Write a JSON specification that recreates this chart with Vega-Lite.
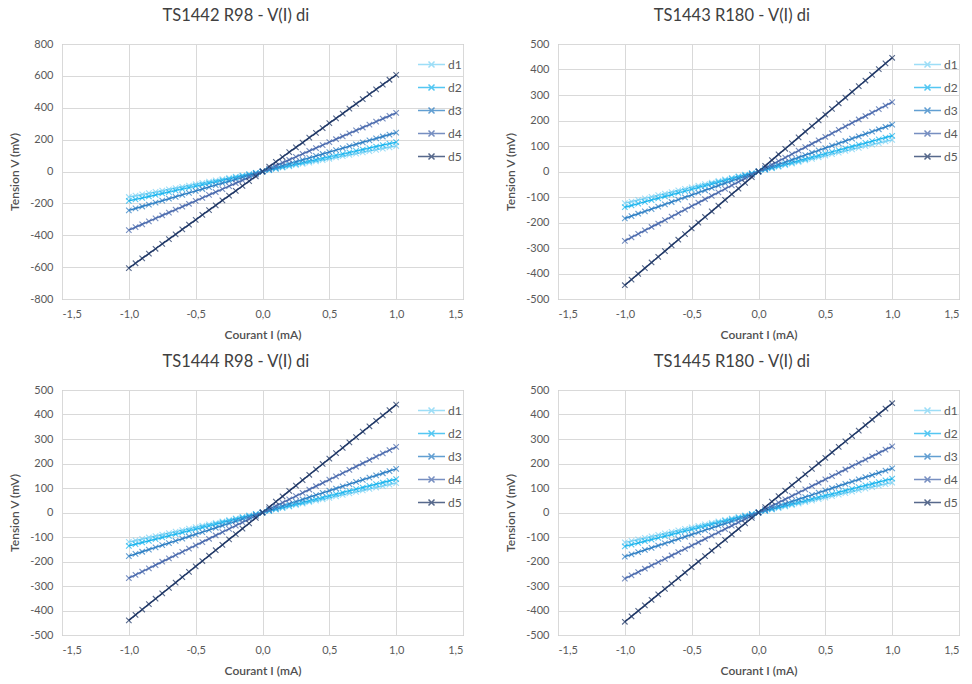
{
"$schema": "https://vega.github.io/schema/vega-lite/v6.json",
"background": "white",
"padding": {"left": 8, "top": 7, "right": 0, "bottom": 0},
"config": {
 "locale": {"number": {"decimal": ",", "thousands": " ", "grouping": [3], "currency": ["", " €"], "minus": "-"}},
 "font": "Lato",
 "view": {"stroke": "#a6a6a6"},
 "axis": {"labelFont": "Lato", "labelFontSize": 11, "labelColor": "#595959", "titleFont": "Lato", "titleFontSize": 12, "titleColor": "#505050", "titleFontWeight": 600, "gridColor": "#d9d9d9", "ticks": false, "domain": false, "labelPadding": 9},
 "axisX": {"titlePadding": 10},
 "axisY": {"titlePadding": 8},
 "title": {"font": "Lato", "fontSize": 16.5, "fontWeight": "normal", "color": "#404040", "offset": 14, "anchor": "middle", "frame": "bounds"},
 "legend": {"orient": "none", "legendX": 361, "legendY": 12, "title": null, "symbolType": "M-1.8,0L1.8,0M-0.4,-0.4L0.4,0.4M-0.4,0.4L0.4,-0.4", "symbolSize": 225, "symbolStrokeWidth": 1.5, "labelOffset": 8, "rowPadding": 8, "labelFont": "Lato", "labelFontSize": 12, "labelColor": "#595959", "padding": 0}
},
"resolve": {"scale": {"color": "independent"}, "legend": {"color": "independent"}},
"datasets": {
 "p1": [
  {"I":-1,"d1":-160,"d2":-184,"d3":-244,"d4":-368,"d5":-606},
  {"I":-0.95,"d1":-152,"d2":-174.8,"d3":-231.8,"d4":-349.6,"d5":-575.7},
  {"I":-0.9,"d1":-144,"d2":-165.6,"d3":-219.6,"d4":-331.2,"d5":-545.4},
  {"I":-0.85,"d1":-136,"d2":-156.4,"d3":-207.4,"d4":-312.8,"d5":-515.1},
  {"I":-0.8,"d1":-128,"d2":-147.2,"d3":-195.2,"d4":-294.4,"d5":-484.8},
  {"I":-0.75,"d1":-120,"d2":-138,"d3":-183,"d4":-276,"d5":-454.5},
  {"I":-0.7,"d1":-112,"d2":-128.8,"d3":-170.8,"d4":-257.6,"d5":-424.2},
  {"I":-0.65,"d1":-104,"d2":-119.6,"d3":-158.6,"d4":-239.2,"d5":-393.9},
  {"I":-0.6,"d1":-96,"d2":-110.4,"d3":-146.4,"d4":-220.8,"d5":-363.6},
  {"I":-0.55,"d1":-88,"d2":-101.2,"d3":-134.2,"d4":-202.4,"d5":-333.3},
  {"I":-0.5,"d1":-80,"d2":-92,"d3":-122,"d4":-184,"d5":-303},
  {"I":-0.45,"d1":-72,"d2":-82.8,"d3":-109.8,"d4":-165.6,"d5":-272.7},
  {"I":-0.4,"d1":-64,"d2":-73.6,"d3":-97.6,"d4":-147.2,"d5":-242.4},
  {"I":-0.35,"d1":-56,"d2":-64.4,"d3":-85.4,"d4":-128.8,"d5":-212.1},
  {"I":-0.3,"d1":-48,"d2":-55.2,"d3":-73.2,"d4":-110.4,"d5":-181.8},
  {"I":-0.25,"d1":-40,"d2":-46,"d3":-61,"d4":-92,"d5":-151.5},
  {"I":-0.2,"d1":-32,"d2":-36.8,"d3":-48.8,"d4":-73.6,"d5":-121.2},
  {"I":-0.15,"d1":-24,"d2":-27.6,"d3":-36.6,"d4":-55.2,"d5":-90.9},
  {"I":-0.1,"d1":-16,"d2":-18.4,"d3":-24.4,"d4":-36.8,"d5":-60.6},
  {"I":-0.05,"d1":-8,"d2":-9.2,"d3":-12.2,"d4":-18.4,"d5":-30.3},
  {"I":0,"d1":0,"d2":0,"d3":0,"d4":0,"d5":0},
  {"I":0.05,"d1":8,"d2":9.2,"d3":12.2,"d4":18.4,"d5":30.3},
  {"I":0.1,"d1":16,"d2":18.4,"d3":24.4,"d4":36.8,"d5":60.6},
  {"I":0.15,"d1":24,"d2":27.6,"d3":36.6,"d4":55.2,"d5":90.9},
  {"I":0.2,"d1":32,"d2":36.8,"d3":48.8,"d4":73.6,"d5":121.2},
  {"I":0.25,"d1":40,"d2":46,"d3":61,"d4":92,"d5":151.5},
  {"I":0.3,"d1":48,"d2":55.2,"d3":73.2,"d4":110.4,"d5":181.8},
  {"I":0.35,"d1":56,"d2":64.4,"d3":85.4,"d4":128.8,"d5":212.1},
  {"I":0.4,"d1":64,"d2":73.6,"d3":97.6,"d4":147.2,"d5":242.4},
  {"I":0.45,"d1":72,"d2":82.8,"d3":109.8,"d4":165.6,"d5":272.7},
  {"I":0.5,"d1":80,"d2":92,"d3":122,"d4":184,"d5":303},
  {"I":0.55,"d1":88,"d2":101.2,"d3":134.2,"d4":202.4,"d5":333.3},
  {"I":0.6,"d1":96,"d2":110.4,"d3":146.4,"d4":220.8,"d5":363.6},
  {"I":0.65,"d1":104,"d2":119.6,"d3":158.6,"d4":239.2,"d5":393.9},
  {"I":0.7,"d1":112,"d2":128.8,"d3":170.8,"d4":257.6,"d5":424.2},
  {"I":0.75,"d1":120,"d2":138,"d3":183,"d4":276,"d5":454.5},
  {"I":0.8,"d1":128,"d2":147.2,"d3":195.2,"d4":294.4,"d5":484.8},
  {"I":0.85,"d1":136,"d2":156.4,"d3":207.4,"d4":312.8,"d5":515.1},
  {"I":0.9,"d1":144,"d2":165.6,"d3":219.6,"d4":331.2,"d5":545.4},
  {"I":0.95,"d1":152,"d2":174.8,"d3":231.8,"d4":349.6,"d5":575.7},
  {"I":1,"d1":160,"d2":184,"d3":244,"d4":368,"d5":606}
 ],
 "p2": [
  {"I":-1,"d1":-124,"d2":-140,"d3":-184,"d4":-272,"d5":-446},
  {"I":-0.95,"d1":-117.8,"d2":-133,"d3":-174.8,"d4":-258.4,"d5":-423.7},
  {"I":-0.9,"d1":-111.6,"d2":-126,"d3":-165.6,"d4":-244.8,"d5":-401.4},
  {"I":-0.85,"d1":-105.4,"d2":-119,"d3":-156.4,"d4":-231.2,"d5":-379.1},
  {"I":-0.8,"d1":-99.2,"d2":-112,"d3":-147.2,"d4":-217.6,"d5":-356.8},
  {"I":-0.75,"d1":-93,"d2":-105,"d3":-138,"d4":-204,"d5":-334.5},
  {"I":-0.7,"d1":-86.8,"d2":-98,"d3":-128.8,"d4":-190.4,"d5":-312.2},
  {"I":-0.65,"d1":-80.6,"d2":-91,"d3":-119.6,"d4":-176.8,"d5":-289.9},
  {"I":-0.6,"d1":-74.4,"d2":-84,"d3":-110.4,"d4":-163.2,"d5":-267.6},
  {"I":-0.55,"d1":-68.2,"d2":-77,"d3":-101.2,"d4":-149.6,"d5":-245.3},
  {"I":-0.5,"d1":-62,"d2":-70,"d3":-92,"d4":-136,"d5":-223},
  {"I":-0.45,"d1":-55.8,"d2":-63,"d3":-82.8,"d4":-122.4,"d5":-200.7},
  {"I":-0.4,"d1":-49.6,"d2":-56,"d3":-73.6,"d4":-108.8,"d5":-178.4},
  {"I":-0.35,"d1":-43.4,"d2":-49,"d3":-64.4,"d4":-95.2,"d5":-156.1},
  {"I":-0.3,"d1":-37.2,"d2":-42,"d3":-55.2,"d4":-81.6,"d5":-133.8},
  {"I":-0.25,"d1":-31,"d2":-35,"d3":-46,"d4":-68,"d5":-111.5},
  {"I":-0.2,"d1":-24.8,"d2":-28,"d3":-36.8,"d4":-54.4,"d5":-89.2},
  {"I":-0.15,"d1":-18.6,"d2":-21,"d3":-27.6,"d4":-40.8,"d5":-66.9},
  {"I":-0.1,"d1":-12.4,"d2":-14,"d3":-18.4,"d4":-27.2,"d5":-44.6},
  {"I":-0.05,"d1":-6.2,"d2":-7,"d3":-9.2,"d4":-13.6,"d5":-22.3},
  {"I":0,"d1":0,"d2":0,"d3":0,"d4":0,"d5":0},
  {"I":0.05,"d1":6.2,"d2":7,"d3":9.2,"d4":13.6,"d5":22.3},
  {"I":0.1,"d1":12.4,"d2":14,"d3":18.4,"d4":27.2,"d5":44.6},
  {"I":0.15,"d1":18.6,"d2":21,"d3":27.6,"d4":40.8,"d5":66.9},
  {"I":0.2,"d1":24.8,"d2":28,"d3":36.8,"d4":54.4,"d5":89.2},
  {"I":0.25,"d1":31,"d2":35,"d3":46,"d4":68,"d5":111.5},
  {"I":0.3,"d1":37.2,"d2":42,"d3":55.2,"d4":81.6,"d5":133.8},
  {"I":0.35,"d1":43.4,"d2":49,"d3":64.4,"d4":95.2,"d5":156.1},
  {"I":0.4,"d1":49.6,"d2":56,"d3":73.6,"d4":108.8,"d5":178.4},
  {"I":0.45,"d1":55.8,"d2":63,"d3":82.8,"d4":122.4,"d5":200.7},
  {"I":0.5,"d1":62,"d2":70,"d3":92,"d4":136,"d5":223},
  {"I":0.55,"d1":68.2,"d2":77,"d3":101.2,"d4":149.6,"d5":245.3},
  {"I":0.6,"d1":74.4,"d2":84,"d3":110.4,"d4":163.2,"d5":267.6},
  {"I":0.65,"d1":80.6,"d2":91,"d3":119.6,"d4":176.8,"d5":289.9},
  {"I":0.7,"d1":86.8,"d2":98,"d3":128.8,"d4":190.4,"d5":312.2},
  {"I":0.75,"d1":93,"d2":105,"d3":138,"d4":204,"d5":334.5},
  {"I":0.8,"d1":99.2,"d2":112,"d3":147.2,"d4":217.6,"d5":356.8},
  {"I":0.85,"d1":105.4,"d2":119,"d3":156.4,"d4":231.2,"d5":379.1},
  {"I":0.9,"d1":111.6,"d2":126,"d3":165.6,"d4":244.8,"d5":401.4},
  {"I":0.95,"d1":117.8,"d2":133,"d3":174.8,"d4":258.4,"d5":423.7},
  {"I":1,"d1":124,"d2":140,"d3":184,"d4":272,"d5":446}
 ],
 "p3": [
  {"I":-1,"d1":-120,"d2":-136,"d3":-178,"d4":-268,"d5":-440},
  {"I":-0.95,"d1":-114,"d2":-129.2,"d3":-169.1,"d4":-254.6,"d5":-418},
  {"I":-0.9,"d1":-108,"d2":-122.4,"d3":-160.2,"d4":-241.2,"d5":-396},
  {"I":-0.85,"d1":-102,"d2":-115.6,"d3":-151.3,"d4":-227.8,"d5":-374},
  {"I":-0.8,"d1":-96,"d2":-108.8,"d3":-142.4,"d4":-214.4,"d5":-352},
  {"I":-0.75,"d1":-90,"d2":-102,"d3":-133.5,"d4":-201,"d5":-330},
  {"I":-0.7,"d1":-84,"d2":-95.2,"d3":-124.6,"d4":-187.6,"d5":-308},
  {"I":-0.65,"d1":-78,"d2":-88.4,"d3":-115.7,"d4":-174.2,"d5":-286},
  {"I":-0.6,"d1":-72,"d2":-81.6,"d3":-106.8,"d4":-160.8,"d5":-264},
  {"I":-0.55,"d1":-66,"d2":-74.8,"d3":-97.9,"d4":-147.4,"d5":-242},
  {"I":-0.5,"d1":-60,"d2":-68,"d3":-89,"d4":-134,"d5":-220},
  {"I":-0.45,"d1":-54,"d2":-61.2,"d3":-80.1,"d4":-120.6,"d5":-198},
  {"I":-0.4,"d1":-48,"d2":-54.4,"d3":-71.2,"d4":-107.2,"d5":-176},
  {"I":-0.35,"d1":-42,"d2":-47.6,"d3":-62.3,"d4":-93.8,"d5":-154},
  {"I":-0.3,"d1":-36,"d2":-40.8,"d3":-53.4,"d4":-80.4,"d5":-132},
  {"I":-0.25,"d1":-30,"d2":-34,"d3":-44.5,"d4":-67,"d5":-110},
  {"I":-0.2,"d1":-24,"d2":-27.2,"d3":-35.6,"d4":-53.6,"d5":-88},
  {"I":-0.15,"d1":-18,"d2":-20.4,"d3":-26.7,"d4":-40.2,"d5":-66},
  {"I":-0.1,"d1":-12,"d2":-13.6,"d3":-17.8,"d4":-26.8,"d5":-44},
  {"I":-0.05,"d1":-6,"d2":-6.8,"d3":-8.9,"d4":-13.4,"d5":-22},
  {"I":0,"d1":0,"d2":0,"d3":0,"d4":0,"d5":0},
  {"I":0.05,"d1":6,"d2":6.8,"d3":8.9,"d4":13.4,"d5":22},
  {"I":0.1,"d1":12,"d2":13.6,"d3":17.8,"d4":26.8,"d5":44},
  {"I":0.15,"d1":18,"d2":20.4,"d3":26.7,"d4":40.2,"d5":66},
  {"I":0.2,"d1":24,"d2":27.2,"d3":35.6,"d4":53.6,"d5":88},
  {"I":0.25,"d1":30,"d2":34,"d3":44.5,"d4":67,"d5":110},
  {"I":0.3,"d1":36,"d2":40.8,"d3":53.4,"d4":80.4,"d5":132},
  {"I":0.35,"d1":42,"d2":47.6,"d3":62.3,"d4":93.8,"d5":154},
  {"I":0.4,"d1":48,"d2":54.4,"d3":71.2,"d4":107.2,"d5":176},
  {"I":0.45,"d1":54,"d2":61.2,"d3":80.1,"d4":120.6,"d5":198},
  {"I":0.5,"d1":60,"d2":68,"d3":89,"d4":134,"d5":220},
  {"I":0.55,"d1":66,"d2":74.8,"d3":97.9,"d4":147.4,"d5":242},
  {"I":0.6,"d1":72,"d2":81.6,"d3":106.8,"d4":160.8,"d5":264},
  {"I":0.65,"d1":78,"d2":88.4,"d3":115.7,"d4":174.2,"d5":286},
  {"I":0.7,"d1":84,"d2":95.2,"d3":124.6,"d4":187.6,"d5":308},
  {"I":0.75,"d1":90,"d2":102,"d3":133.5,"d4":201,"d5":330},
  {"I":0.8,"d1":96,"d2":108.8,"d3":142.4,"d4":214.4,"d5":352},
  {"I":0.85,"d1":102,"d2":115.6,"d3":151.3,"d4":227.8,"d5":374},
  {"I":0.9,"d1":108,"d2":122.4,"d3":160.2,"d4":241.2,"d5":396},
  {"I":0.95,"d1":114,"d2":129.2,"d3":169.1,"d4":254.6,"d5":418},
  {"I":1,"d1":120,"d2":136,"d3":178,"d4":268,"d5":440}
 ],
 "p4": [
  {"I":-1,"d1":-122,"d2":-138,"d3":-180,"d4":-270,"d5":-446},
  {"I":-0.95,"d1":-115.9,"d2":-131.1,"d3":-171,"d4":-256.5,"d5":-423.7},
  {"I":-0.9,"d1":-109.8,"d2":-124.2,"d3":-162,"d4":-243,"d5":-401.4},
  {"I":-0.85,"d1":-103.7,"d2":-117.3,"d3":-153,"d4":-229.5,"d5":-379.1},
  {"I":-0.8,"d1":-97.6,"d2":-110.4,"d3":-144,"d4":-216,"d5":-356.8},
  {"I":-0.75,"d1":-91.5,"d2":-103.5,"d3":-135,"d4":-202.5,"d5":-334.5},
  {"I":-0.7,"d1":-85.4,"d2":-96.6,"d3":-126,"d4":-189,"d5":-312.2},
  {"I":-0.65,"d1":-79.3,"d2":-89.7,"d3":-117,"d4":-175.5,"d5":-289.9},
  {"I":-0.6,"d1":-73.2,"d2":-82.8,"d3":-108,"d4":-162,"d5":-267.6},
  {"I":-0.55,"d1":-67.1,"d2":-75.9,"d3":-99,"d4":-148.5,"d5":-245.3},
  {"I":-0.5,"d1":-61,"d2":-69,"d3":-90,"d4":-135,"d5":-223},
  {"I":-0.45,"d1":-54.9,"d2":-62.1,"d3":-81,"d4":-121.5,"d5":-200.7},
  {"I":-0.4,"d1":-48.8,"d2":-55.2,"d3":-72,"d4":-108,"d5":-178.4},
  {"I":-0.35,"d1":-42.7,"d2":-48.3,"d3":-63,"d4":-94.5,"d5":-156.1},
  {"I":-0.3,"d1":-36.6,"d2":-41.4,"d3":-54,"d4":-81,"d5":-133.8},
  {"I":-0.25,"d1":-30.5,"d2":-34.5,"d3":-45,"d4":-67.5,"d5":-111.5},
  {"I":-0.2,"d1":-24.4,"d2":-27.6,"d3":-36,"d4":-54,"d5":-89.2},
  {"I":-0.15,"d1":-18.3,"d2":-20.7,"d3":-27,"d4":-40.5,"d5":-66.9},
  {"I":-0.1,"d1":-12.2,"d2":-13.8,"d3":-18,"d4":-27,"d5":-44.6},
  {"I":-0.05,"d1":-6.1,"d2":-6.9,"d3":-9,"d4":-13.5,"d5":-22.3},
  {"I":0,"d1":0,"d2":0,"d3":0,"d4":0,"d5":0},
  {"I":0.05,"d1":6.1,"d2":6.9,"d3":9,"d4":13.5,"d5":22.3},
  {"I":0.1,"d1":12.2,"d2":13.8,"d3":18,"d4":27,"d5":44.6},
  {"I":0.15,"d1":18.3,"d2":20.7,"d3":27,"d4":40.5,"d5":66.9},
  {"I":0.2,"d1":24.4,"d2":27.6,"d3":36,"d4":54,"d5":89.2},
  {"I":0.25,"d1":30.5,"d2":34.5,"d3":45,"d4":67.5,"d5":111.5},
  {"I":0.3,"d1":36.6,"d2":41.4,"d3":54,"d4":81,"d5":133.8},
  {"I":0.35,"d1":42.7,"d2":48.3,"d3":63,"d4":94.5,"d5":156.1},
  {"I":0.4,"d1":48.8,"d2":55.2,"d3":72,"d4":108,"d5":178.4},
  {"I":0.45,"d1":54.9,"d2":62.1,"d3":81,"d4":121.5,"d5":200.7},
  {"I":0.5,"d1":61,"d2":69,"d3":90,"d4":135,"d5":223},
  {"I":0.55,"d1":67.1,"d2":75.9,"d3":99,"d4":148.5,"d5":245.3},
  {"I":0.6,"d1":73.2,"d2":82.8,"d3":108,"d4":162,"d5":267.6},
  {"I":0.65,"d1":79.3,"d2":89.7,"d3":117,"d4":175.5,"d5":289.9},
  {"I":0.7,"d1":85.4,"d2":96.6,"d3":126,"d4":189,"d5":312.2},
  {"I":0.75,"d1":91.5,"d2":103.5,"d3":135,"d4":202.5,"d5":334.5},
  {"I":0.8,"d1":97.6,"d2":110.4,"d3":144,"d4":216,"d5":356.8},
  {"I":0.85,"d1":103.7,"d2":117.3,"d3":153,"d4":229.5,"d5":379.1},
  {"I":0.9,"d1":109.8,"d2":124.2,"d3":162,"d4":243,"d5":401.4},
  {"I":0.95,"d1":115.9,"d2":131.1,"d3":171,"d4":256.5,"d5":423.7},
  {"I":1,"d1":122,"d2":138,"d3":180,"d4":270,"d5":446}
 ]
},
"columns": 2,
"spacing": {"row": 12, "column": 40},
"concat": [
 {
  "title": "TS1442 R98 - V(I) di",
  "width": 401, "height": 255,
  "data": {"name": "p1"},
  "transform": [{"fold": ["d1","d2","d3","d4","d5"], "as": ["serie","V"]}],
  "encoding": {
   "x": {"field": "I", "type": "quantitative", "scale": {"domain": [-1.5,1.5], "nice": false}, "axis": {"values": [-1.5,-1,-0.5,0,0.5,1,1.5], "format": ".1f", "title": "Courant I (mA)"}},
   "y": {"field": "V", "type": "quantitative", "scale": {"domain": [-800,800], "nice": false}, "axis": {"values": [-800,-600,-400,-200,0,200,400,600,800], "format": "d", "title": "Tension  V (mV)"}},
   "color": {"field": "serie", "type": "nominal", "scale": {"domain": ["d1","d2","d3","d4","d5"], "range": ["#7dd3f5","#1cb5ee","#2e7fc4","#4a6aad","#1f3766"]}}
  },
  "layer": [
   {"mark": {"type": "line", "strokeWidth": 1.5}},
   {"mark": {"type": "point", "shape": "M-1,-1L1,1M-1,1L1,-1", "filled": false, "size": 30, "strokeWidth": 1.1, "opacity": 0.75}}
  ]
 },
 {
  "title": "TS1443 R180 - V(I) di",
  "width": 401, "height": 255,
  "data": {"name": "p2"},
  "transform": [{"fold": ["d1","d2","d3","d4","d5"], "as": ["serie","V"]}],
  "encoding": {
   "x": {"field": "I", "type": "quantitative", "scale": {"domain": [-1.5,1.5], "nice": false}, "axis": {"values": [-1.5,-1,-0.5,0,0.5,1,1.5], "format": ".1f", "title": "Courant I (mA)"}},
   "y": {"field": "V", "type": "quantitative", "scale": {"domain": [-500,500], "nice": false}, "axis": {"values": [-500,-400,-300,-200,-100,0,100,200,300,400,500], "format": "d", "title": "Tension  V (mV)"}},
   "color": {"field": "serie", "type": "nominal", "scale": {"domain": ["d1","d2","d3","d4","d5"], "range": ["#7dd3f5","#1cb5ee","#2e7fc4","#4a6aad","#1f3766"]}}
  },
  "layer": [
   {"mark": {"type": "line", "strokeWidth": 1.5}},
   {"mark": {"type": "point", "shape": "M-1,-1L1,1M-1,1L1,-1", "filled": false, "size": 30, "strokeWidth": 1.1, "opacity": 0.75}}
  ]
 },
 {
  "title": "TS1444 R98 - V(I) di",
  "width": 401, "height": 245,
  "data": {"name": "p3"},
  "transform": [{"fold": ["d1","d2","d3","d4","d5"], "as": ["serie","V"]}],
  "encoding": {
   "x": {"field": "I", "type": "quantitative", "scale": {"domain": [-1.5,1.5], "nice": false}, "axis": {"values": [-1.5,-1,-0.5,0,0.5,1,1.5], "format": ".1f", "title": "Courant I (mA)"}},
   "y": {"field": "V", "type": "quantitative", "scale": {"domain": [-500,500], "nice": false}, "axis": {"values": [-500,-400,-300,-200,-100,0,100,200,300,400,500], "format": "d", "title": "Tension  V (mV)"}},
   "color": {"field": "serie", "type": "nominal", "scale": {"domain": ["d1","d2","d3","d4","d5"], "range": ["#7dd3f5","#1cb5ee","#2e7fc4","#4a6aad","#1f3766"]}}
  },
  "layer": [
   {"mark": {"type": "line", "strokeWidth": 1.5}},
   {"mark": {"type": "point", "shape": "M-1,-1L1,1M-1,1L1,-1", "filled": false, "size": 30, "strokeWidth": 1.1, "opacity": 0.75}}
  ]
 },
 {
  "title": "TS1445 R180 - V(I) di",
  "width": 401, "height": 245,
  "data": {"name": "p4"},
  "transform": [{"fold": ["d1","d2","d3","d4","d5"], "as": ["serie","V"]}],
  "encoding": {
   "x": {"field": "I", "type": "quantitative", "scale": {"domain": [-1.5,1.5], "nice": false}, "axis": {"values": [-1.5,-1,-0.5,0,0.5,1,1.5], "format": ".1f", "title": "Courant I (mA)"}},
   "y": {"field": "V", "type": "quantitative", "scale": {"domain": [-500,500], "nice": false}, "axis": {"values": [-500,-400,-300,-200,-100,0,100,200,300,400,500], "format": "d", "title": "Tension  V (mV)"}},
   "color": {"field": "serie", "type": "nominal", "scale": {"domain": ["d1","d2","d3","d4","d5"], "range": ["#7dd3f5","#1cb5ee","#2e7fc4","#4a6aad","#1f3766"]}}
  },
  "layer": [
   {"mark": {"type": "line", "strokeWidth": 1.5}},
   {"mark": {"type": "point", "shape": "M-1,-1L1,1M-1,1L1,-1", "filled": false, "size": 30, "strokeWidth": 1.1, "opacity": 0.75}}
  ]
 }
]
}
